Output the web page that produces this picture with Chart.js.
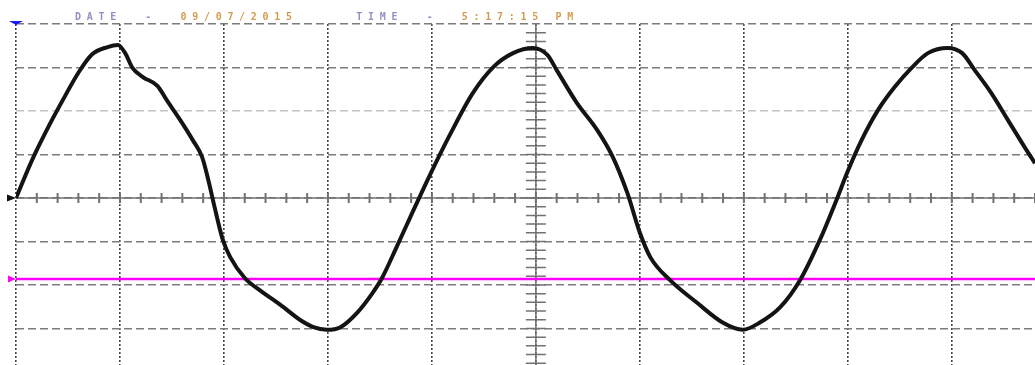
<!DOCTYPE html>
<html>
<head>
<meta charset="utf-8">
<script src="https://cdn.jsdelivr.net/npm/chart.js@4.4.0/dist/chart.umd.min.js"></script>
<style>
  html, body { margin: 0; padding: 0; background: #fff; }
  #wrap { position: relative; width: 1035px; height: 365px; overflow: hidden; }
  #header {
    position: absolute; left: 75px; top: 12px;
    font: bold 10px 'DejaVu Sans Mono', monospace;
    letter-spacing: 5.7px; white-space: pre; line-height: 10px;
  }
  .lbl { color: #9090c4; }
  .val { color: #d49c50; }
</style>
</head>
<body>
<div id="wrap">
  <canvas id="scope" width="1035" height="365"></canvas>
  <div id="header"><span class="lbl">DATE  -  </span><span class="val">09/07/2015</span>     <span class="lbl">TIME  -  </span><span class="val">5:17:15 PM</span></div>
</div>
<script>
// screen in divisions: 10 wide (cropped at 9.8), 4 up / 3.84 down from centre
const X_MAX = 9.8;
const Y_MIN = -3.84;
const Y_MAX = 4;

const xTicks = [0, 1, 2, 3, 4, 5, 6, 7, 8, 9];
const yTicks = [-3, -2, -1, 0, 1, 2, 3, 4];

// channel 1 trace (divisions)
const traceX = [0, 0.16, 0.33, 0.45, 0.60, 0.73, 0.88, 0.98, 1.05, 1.12, 1.22, 1.36, 1.45, 1.58, 1.70, 1.79, 1.85, 1.91,
  1.99, 2.06, 2.20, 2.35, 2.54, 2.73, 2.86, 2.99, 3.12, 3.28, 3.43, 3.52, 3.66, 3.79, 3.91, 4.05,
  4.17, 4.39, 4.59, 4.78, 4.97, 5.11, 5.20, 5.39, 5.59, 5.74, 5.88, 6.00, 6.10, 6.29, 6.55, 6.80,
  6.99, 7.15, 7.35, 7.54, 7.73, 7.89, 8.00, 8.13, 8.29, 8.45, 8.62, 8.77, 8.96, 9.10, 9.22, 9.38,
  9.54, 9.70, 9.80];
const traceY = [0, 0.90, 1.72, 2.25, 2.88, 3.30, 3.47, 3.52, 3.33, 2.99, 2.78, 2.58, 2.25, 1.79, 1.33, 0.94, 0.41, -0.21,
  -0.97, -1.36, -1.84, -2.13, -2.45, -2.80, -2.97, -3.03, -2.97, -2.64, -2.18, -1.84, -1.13, -0.45, 0.17, 0.87,
  1.44, 2.40, 3.01, 3.33, 3.45, 3.29, 2.94, 2.20, 1.56, 0.94, 0.11, -0.80, -1.36, -1.89, -2.41, -2.87,
  -3.03, -2.87, -2.51, -1.89, -0.97, -0.05, 0.62, 1.32, 2.02, 2.55, 3.01, 3.33, 3.45, 3.33, 2.94, 2.41,
  1.79, 1.17, 0.80];

// channel 2 reference level
const refX = [0, 9.8];
const refY = [-1.86, -1.86];

const toPoints = (xs, ys) => xs.map((x, i) => ({ x, y: ys[i] }));

const scopeOverlay = {
  id: 'scopeOverlay',
  beforeDatasetsDraw(chart) {
    const { ctx, chartArea: a, scales: { x, y } } = chart;
    const y0 = y.getPixelForValue(0);
    const xc = x.getPixelForValue(5);
    ctx.save();
    ctx.strokeStyle = '#727272';
    ctx.lineWidth = 1.5;
    ctx.beginPath();
    ctx.moveTo(a.left, y0); ctx.lineTo(a.right, y0);
    ctx.moveTo(xc, a.top); ctx.lineTo(xc, a.bottom);
    ctx.stroke();
    // minor ticks, 5 per division
    ctx.lineWidth = 2;
    ctx.beginPath();
    for (let v = 0.2; v < X_MAX; v += 0.2) {
      const px = x.getPixelForValue(v);
      ctx.moveTo(px, y0 - 5); ctx.lineTo(px, y0 + 5);
    }
    ctx.stroke();
    ctx.lineWidth = 1.5;
    ctx.beginPath();
    for (let v = Y_MAX - 0.2; v > Y_MIN; v -= 0.2) {
      const py = y.getPixelForValue(v);
      ctx.moveTo(xc - 10, py); ctx.lineTo(xc + 10, py);
    }
    ctx.stroke();
    ctx.restore();
  },
  afterDraw(chart) {
    const { ctx, chartArea: a, scales: { x, y } } = chart;
    const tri = (pts, color) => {
      ctx.fillStyle = color;
      ctx.beginPath();
      ctx.moveTo(pts[0], pts[1]); ctx.lineTo(pts[2], pts[3]); ctx.lineTo(pts[4], pts[5]);
      ctx.closePath();
      ctx.fill();
    };
    const y0 = y.getPixelForValue(0);
    const yr = y.getPixelForValue(refY[0]);
    const x0 = x.getPixelForValue(0);
    ctx.save();
    tri([a.left - 9, y0 - 3.5, a.left - 9, y0 + 3.5, a.left, y0], '#111');
    tri([a.left - 8, yr - 3.5, a.left - 8, yr + 3.5, a.left, yr], '#ff00ff');
    tri([x0 - 7, a.top - 3, x0 + 7, a.top - 3, x0, a.top + 1], '#1a1aff');
    ctx.restore();
  }
};

new Chart(document.getElementById('scope'), {
  type: 'line',
  data: {
    datasets: [
      {
        label: 'CH1',
        data: toPoints(traceX, traceY),
        borderColor: '#141414',
        borderWidth: 4,
        cubicInterpolationMode: 'monotone',
        pointRadius: 0
      },
      {
        label: 'CH2',
        data: toPoints(refX, refY),
        borderColor: '#ff00ff',
        borderWidth: 2.5,
        pointRadius: 0
      }
    ]
  },
  options: {
    responsive: false,
    animation: false,
    devicePixelRatio: 1,
    layout: { padding: { left: 16, top: 24, right: 0, bottom: 0 } },
    plugins: {
      legend: { display: false },
      tooltip: { enabled: false }
    },
    scales: {
      x: {
        type: 'linear',
        min: 0,
        max: X_MAX,
        afterBuildTicks: axis => { axis.ticks = xTicks.map(v => ({ value: v })); },
        ticks: { display: false },
        grid: { color: '#444', lineWidth: 1.6, drawTicks: false },
        border: { display: false, dash: [2, 2] }
      },
      y: {
        type: 'linear',
        min: Y_MIN,
        max: Y_MAX,
        afterBuildTicks: axis => { axis.ticks = yTicks.map(v => ({ value: v })); },
        ticks: { display: false },
        grid: {
          color: ctx => (ctx.tick && ctx.tick.value === 2 ? '#c4c4c4' : '#7c7c7c'),
          lineWidth: 1.5,
          drawTicks: false
        },
        border: { display: false, dash: [8, 4] }
      }
    }
  },
  plugins: [scopeOverlay]
});
</script>
</body>
</html>
